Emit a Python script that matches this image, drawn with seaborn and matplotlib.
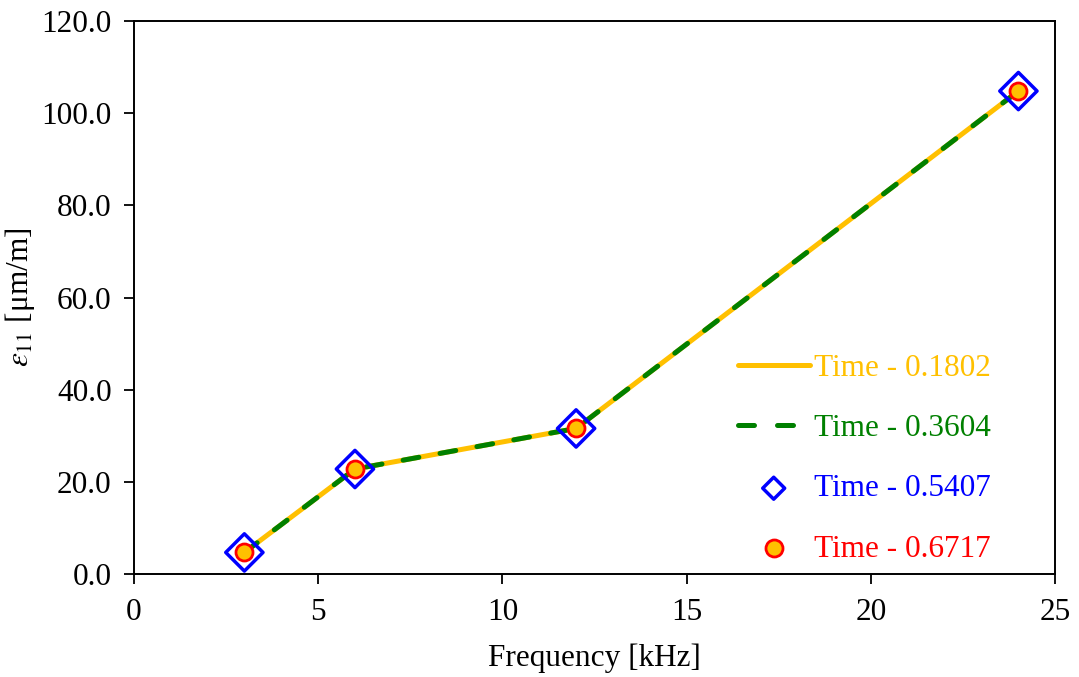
import matplotlib
matplotlib.use("Agg")
import matplotlib.pyplot as plt
import seaborn as sns

# Strain response at each sampled time step
frequency_khz = [3, 6, 12, 24]
strain_t01802 = [4.7, 22.8, 31.6, 104.8]
strain_t03604 = [4.7, 22.8, 31.6, 104.8]
strain_t05407 = [4.7, 22.8, 31.6, 104.8]
strain_t06717 = [4.7, 22.8, 31.6, 104.8]
labels = ["Time - 0.1802", "Time - 0.3604", "Time - 0.5407", "Time - 0.6717"]

x_ticks = [0, 5, 10, 15, 20, 25]
y_ticks = [0, 20, 40, 60, 80, 100, 120]

FS = 22.5
LW = 3.6
DASH = [3.2, 4.3]

sns.set_theme(style="ticks")
plt.rcParams["font.family"] = ["Liberation Serif", "DejaVu Serif"]
plt.rcParams["mathtext.fontset"] = "stix"

fig, ax = plt.subplots(figsize=(10.79, 6.77), dpi=100)
fig.subplots_adjust(left=0.124, right=0.978, top=0.969, bottom=0.152)

sns.lineplot(x=frequency_khz, y=strain_t01802, ax=ax, color="#FFC000",
             linewidth=LW, label=labels[0], solid_capstyle="round")
sns.lineplot(x=frequency_khz, y=strain_t03604, ax=ax, color="#008000",
             linewidth=LW, label=labels[1], dash_capstyle="round")
ax.lines[-1].set_dashes(DASH)
sns.scatterplot(x=frequency_khz, y=strain_t05407, ax=ax, marker="D",
                s=360, facecolor="none", edgecolor="#0000FF", linewidth=2.5,
                label=labels[2], zorder=3)
sns.scatterplot(x=frequency_khz, y=strain_t06717, ax=ax, marker="o",
                s=150, color="#FFC000", edgecolor="#FF0000", linewidth=2.0,
                label=labels[3], zorder=4)

ax.set_xlim(0, 25)
ax.set_ylim(0, 120)
ax.set_xticks(x_ticks)
ax.set_xticklabels([str(t) for t in x_ticks])
ax.set_yticks(y_ticks)
ax.set_yticklabels([f"{t:.1f}" for t in y_ticks])
ax.tick_params(axis="both", labelsize=FS, length=7, width=1.3, color="black",
               direction="out", labelcolor="black")
ax.tick_params(axis="y", pad=9)
ax.tick_params(axis="x", pad=10)
for side in ax.spines.values():
    side.set_linewidth(1.4)
    side.set_color("black")

ax.set_xlabel("Frequency [kHz]", fontsize=FS, color="black", labelpad=12)
ax.set_ylabel(r"$\varepsilon_{11}$ [μm/m]", fontsize=FS, color="black")
ax.yaxis.set_label_coords(-0.105, 0.5)

handles, hlabels = ax.get_legend_handles_labels()
leg = ax.legend(handles, hlabels, loc="lower right", bbox_to_anchor=(0.961, -0.032),
                frameon=False, fontsize=FS, labelspacing=1.0, handlelength=2.3,
                handletextpad=0.15)
text_colors = ["#FFC000", "#008000", "#0000FF", "#FF0000"]
for txt, c in zip(leg.get_texts(), text_colors):
    txt.set_color(c)
leg_handles = leg.legend_handles
leg_handles[0].set_linewidth(LW)
leg_handles[0].set_solid_capstyle("round")
leg_handles[1].set_linewidth(LW)
leg_handles[1].set_dash_capstyle("round")
leg_handles[1].set_dashes([3.2, 4.6])
leg_handles[2].set_sizes([125])
leg_handles[3].set_sizes([150])

fig.savefig("out.png", dpi=100)
